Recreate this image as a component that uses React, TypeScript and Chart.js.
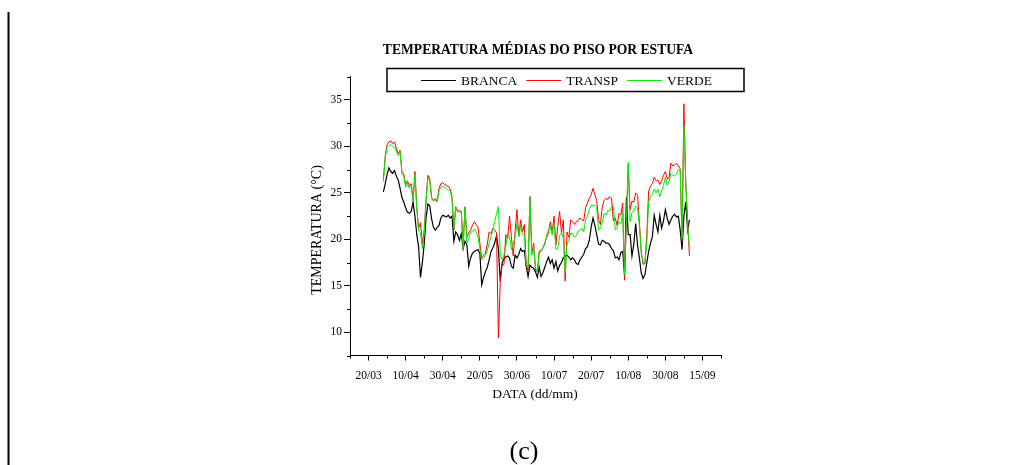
import React, { useEffect, useRef } from "react";
import { Chart, registerables } from "chart.js";

Chart.register(...registerables);

// Daily floor temperatures; the first value belongs to day FIRST_DAY (day 0 = 20/03 tick).
const FIRST_DAY = 8;

const BRANCA = [
  25.1, 26.0, 27.0, 27.7, 27.3, 27.1, 27.4, 26.8, 26.4, 25.5,
  24.5, 24.0, 23.4, 22.9, 22.8, 23.0, 24.0, 22.5, 20.5, 19.2,
  15.9, 17.5, 19.5, 22.3, 23.8, 23.6, 22.2, 21.3, 21.0, 21.3,
  21.5, 22.3, 22.6, 22.5, 22.4, 22.6, 22.3, 22.5, 19.8, 20.8,
  20.5, 19.9, 20.6, 19.0, 19.8, 19.4, 17.1, 18.0, 18.5, 18.7,
  18.8, 18.9, 18.5, 15.1, 15.9, 16.5, 17.0, 17.8, 18.7, 19.1,
  19.6, 20.4, 19.0, 15.5, 17.5, 17.9, 18.1, 18.2, 18.0, 17.1,
  16.9, 18.3, 18.0, 18.4, 19.0, 18.7, 18.8, 17.1, 16.0, 17.2,
  17.0, 16.9, 16.5, 15.9, 17.0, 16.0, 16.4, 17.0, 17.6, 18.1,
  17.4, 17.8, 16.9, 17.6, 16.6, 17.2, 17.5, 18.0, 18.2, 18.3,
  18.1, 17.8, 18.0, 17.8, 17.4, 17.3, 17.8, 18.1, 18.4, 19.0,
  19.2, 19.9, 21.3, 22.3, 21.5, 20.5, 19.5, 19.4, 19.9, 19.8,
  19.6, 19.6, 19.4, 19.0, 18.8, 18.0, 18.1, 17.8, 18.6, 18.7,
  16.2, 24.5, 20.5, 20.5, 18.2, 19.5, 21.7, 19.4, 18.0, 16.4,
  15.8, 16.2, 17.5, 18.7, 19.6, 20.3, 22.6, 21.6, 20.8, 22.6,
  21.2, 22.0, 23.2, 22.3, 21.6, 22.1, 22.5, 22.7, 22.4, 22.5,
  21.0, 18.9, 22.5, 24.0, 21.0, 22.1,
];

const TRANSP = [
  26.5, 29.0, 30.2, 30.5, 30.6, 30.3, 30.5, 29.8, 29.2, 29.6,
  27.3, 27.0, 25.9, 26.3, 25.7, 26.0, 24.3, 27.3, 23.5, 21.2,
  21.8, 19.5, 21.0, 24.3, 26.9, 26.5, 24.5, 24.2, 24.4, 24.1,
  25.5, 26.0, 26.1, 25.9, 25.8, 25.7, 25.4, 24.6, 21.0, 23.5,
  23.0, 23.1, 23.0, 19.3, 23.5, 20.3, 20.7, 21.0, 21.5, 21.9,
  21.6, 21.3, 19.6, 18.0, 18.3, 18.5, 19.5, 20.8, 20.6, 21.2,
  21.0, 20.7, 9.4, 15.5, 17.3, 17.3, 20.5, 20.1, 22.5, 20.3,
  18.2, 20.8, 23.2, 20.3, 22.1, 20.8, 21.6, 17.1, 16.7, 24.6,
  18.5, 19.6, 16.7, 16.5, 18.7, 18.8, 19.1, 19.6, 20.2, 20.7,
  21.9, 20.7, 22.5, 19.4, 21.4, 23.0, 20.7, 22.1, 15.5, 20.8,
  20.2, 22.1, 21.9, 21.6, 21.9, 22.0, 22.3, 22.1, 22.0, 23.4,
  23.9, 24.4, 24.8, 25.5, 24.8, 24.2, 22.1, 21.6, 23.5, 24.2,
  24.4, 24.3, 24.6, 24.4, 22.0, 22.3, 21.5, 22.8, 22.6, 23.9,
  15.6, 22.0, 28.0, 23.2, 24.1, 24.0, 25.0, 24.8, 21.9, 18.7,
  17.3, 17.4, 20.5, 25.2, 25.7, 26.0, 26.7, 26.3, 26.4, 25.9,
  26.3, 26.9, 27.3, 26.5, 26.6, 28.2, 27.9, 28.0, 28.2, 27.9,
  27.6, 19.8, 34.6, 26.0, 22.0, 18.2,
];

const VERDE = [
  26.2, 28.8, 29.9, 30.1, 30.2, 30.0, 29.9, 29.5, 29.0, 29.5,
  27.0, 26.8, 25.6, 26.0, 25.5, 25.7, 24.1, 27.0, 23.3, 20.9,
  20.7, 19.0, 20.6, 24.0, 26.7, 26.3, 24.4, 24.1, 24.2, 24.0,
  25.2, 25.6, 25.7, 25.6, 25.5, 25.3, 25.2, 24.3, 21.2, 23.4,
  23.0, 23.0, 22.8, 19.0, 23.5, 19.6, 20.0, 20.8, 20.8, 21.1,
  20.8, 20.3, 19.0, 17.8, 18.0, 18.3, 18.8, 19.6, 20.3, 21.0,
  21.9, 22.8, 23.5, 18.3, 17.8, 18.3, 19.2, 20.7, 20.3, 18.9,
  19.5, 20.3, 21.7, 20.3, 21.5, 20.5, 20.3, 17.3, 17.0, 24.6,
  18.3, 19.2, 17.0, 16.3, 18.6, 18.7, 19.1, 19.4, 20.5, 21.0,
  21.4, 20.5, 21.8, 18.9, 19.0, 20.4, 20.7, 20.2, 16.4, 19.5,
  19.9, 20.7, 20.6, 20.2, 20.4, 20.9, 21.0, 21.2, 20.8, 22.1,
  22.5, 23.2, 23.7, 23.6, 23.7, 23.4, 21.0, 21.2, 21.8, 22.8,
  22.6, 23.1, 23.0, 23.5, 23.6, 21.0, 21.3, 21.9, 21.7, 22.8,
  16.2, 22.0, 28.3, 21.9, 22.9, 23.0, 23.6, 23.4, 21.5, 18.5,
  17.5, 17.6, 19.6, 24.0, 24.6, 24.9, 25.4, 25.0, 25.4, 24.6,
  25.2, 25.8, 26.7, 25.8, 26.2, 27.1, 26.9, 26.8, 27.0, 27.5,
  27.5, 20.1, 32.3, 26.2, 21.5, 19.1,
];

const X_TICK_DAYS = [0, 20, 40, 60, 80, 100, 120, 140, 160, 180];
const X_TICK_LABELS = ["20/03", "10/04", "30/04", "20/05", "30/06", "10/07", "20/07", "10/08", "30/08", "15/09"];
const X_MINOR_DAYS = [-10, 10, 30, 50, 70, 90, 110, 130, 150, 170, 190];
const Y_TICKS = [10, 15, 20, 25, 30, 35];
const Y_MINOR = [7.5, 12.5, 17.5, 22.5, 27.5, 32.5, 37.5];

const TITLE = "TEMPERATURA MÉDIAS DO PISO POR ESTUFA";
const X_TITLE = "DATA (dd/mm)";
const Y_TITLE = "TEMPERATURA (°C)";
const CAPTION = "(c)";

const SERIF = "'Liberation Serif', 'Times New Roman', serif";

const toPoints = (values: number[]) => values.map((v, i) => ({ x: FIRST_DAY + i, y: v }));

const decorations = {
  id: "decorations",
  afterDraw(chart: any) {
    const ctx: CanvasRenderingContext2D = chart.ctx;
    const { bottom, left } = chart.chartArea;
    const xs = chart.scales.x;
    const ys = chart.scales.y;
    ctx.save();
    ctx.strokeStyle = "#000";
    ctx.fillStyle = "#000";
    ctx.lineWidth = 1;

    // minor ticks
    ctx.beginPath();
    X_MINOR_DAYS.forEach((d) => {
      const px = Math.round(xs.getPixelForValue(d)) + 0.5;
      ctx.moveTo(px, bottom);
      ctx.lineTo(px, bottom + 3);
    });
    Y_MINOR.forEach((v) => {
      const py = Math.round(ys.getPixelForValue(v)) + 0.5;
      ctx.moveTo(left, py);
      ctx.lineTo(left - 3, py);
    });
    ctx.stroke();

    // title
    ctx.textAlign = "center";
    ctx.textBaseline = "alphabetic";
    ctx.font = `bold 13.6px ${SERIF}`;
    ctx.fillText(TITLE, 538, 54);

    // legend box
    ctx.lineWidth = 1.5;
    ctx.strokeRect(387, 68.5, 357, 23);
    ctx.font = `13.5px ${SERIF}`;
    const lineLen = 35;
    const gapText = 5;
    const gapItem = 9;
    const items = chart.data.datasets.map((ds: any) => ({
      label: ds.label as string,
      color: ds.borderColor as string,
      w: ctx.measureText(ds.label).width,
    }));
    const total = items.reduce((s: number, it: any) => s + lineLen + gapText + it.w, 0) + gapItem * (items.length - 1);
    let cx = 566.5 - total / 2;
    const ly = 80;
    ctx.textAlign = "left";
    items.forEach((it: any) => {
      ctx.strokeStyle = it.color;
      ctx.lineWidth = 1;
      ctx.beginPath();
      ctx.moveTo(cx, ly + 0.5);
      ctx.lineTo(cx + lineLen, ly + 0.5);
      ctx.stroke();
      ctx.fillStyle = "#000";
      ctx.fillText(it.label, cx + lineLen + gapText, 85);
      cx += lineLen + gapText + it.w + gapItem;
    });

    // axis titles
    ctx.fillStyle = "#000";
    ctx.textAlign = "center";
    ctx.font = `13.5px ${SERIF}`;
    ctx.fillText(X_TITLE, 535, 398);

    ctx.save();
    ctx.translate(321, 230);
    ctx.rotate(-Math.PI / 2);
    ctx.font = `14px ${SERIF}`;
    ctx.fillText(Y_TITLE, 0, 0);
    ctx.restore();

    // caption
    ctx.font = `26px ${SERIF}`;
    ctx.fillText(CAPTION, 524, 459);

    // left rule
    ctx.strokeStyle = "#000";
    ctx.lineWidth = 2;
    ctx.beginPath();
    ctx.moveTo(8.5, 12);
    ctx.lineTo(8.5, 465);
    ctx.stroke();

    ctx.restore();
  },
};

export default function App() {
  const canvasRef = useRef<HTMLCanvasElement | null>(null);

  useEffect(() => {
    const canvas = canvasRef.current;
    if (!canvas) return;
    Chart.defaults.font.family = SERIF;
    Chart.defaults.color = "#000";

    const chart = new Chart(canvas, {
      type: "line",
      data: {
        datasets: [
          { label: "BRANCA", data: toPoints(BRANCA), borderColor: "#000000", borderWidth: 1.2, order: 2 },
          { label: "TRANSP", data: toPoints(TRANSP), borderColor: "#ff0000", borderWidth: 1, order: 1 },
          { label: "VERDE", data: toPoints(VERDE), borderColor: "#00ee00", borderWidth: 1, order: 0 },
        ],
      },
      options: {
        responsive: false,
        animation: false,
        devicePixelRatio: 1,
        layout: { padding: { left: 300, right: 304, top: 76.75, bottom: 49.5 } },
        elements: { point: { radius: 0 }, line: { tension: 0 } },
        plugins: { legend: { display: false }, title: { display: false }, tooltip: { enabled: false } },
        scales: {
          x: {
            type: "linear",
            min: -10,
            max: 190,
            afterFit: (s: any) => { s.height = 60; },
            afterBuildTicks: (s: any) => { s.ticks = X_TICK_DAYS.map((v) => ({ value: v })); },
            ticks: {
              autoSkip: false,
              maxRotation: 0,
              padding: 9,
              font: { size: 11.5 },
              callback: (v: any) => {
                const i = X_TICK_DAYS.indexOf(Number(v));
                return i >= 0 ? X_TICK_LABELS[i] : "";
              },
            },
            grid: { drawOnChartArea: false, drawTicks: true, tickLength: 5, color: "#000" },
            border: { display: true, color: "#000", width: 1 },
          },
          y: {
            type: "linear",
            min: 7.5,
            max: 37.5,
            afterFit: (s: any) => { s.width = 50; },
            afterBuildTicks: (s: any) => { s.ticks = Y_TICKS.map((v) => ({ value: v })); },
            ticks: { padding: 2, font: { size: 11.5 } },
            grid: { drawOnChartArea: false, drawTicks: true, tickLength: 6, color: "#000" },
            border: { display: true, color: "#000", width: 1 },
          },
        },
      },
      plugins: [decorations],
    });
    return () => chart.destroy();
  }, []);

  return (
    <div style={{ position: "fixed", left: 0, top: 0, width: 1025, height: 465, background: "#fff" }}>
      <canvas ref={canvasRef} width={1025} height={465} />
    </div>
  );
}
